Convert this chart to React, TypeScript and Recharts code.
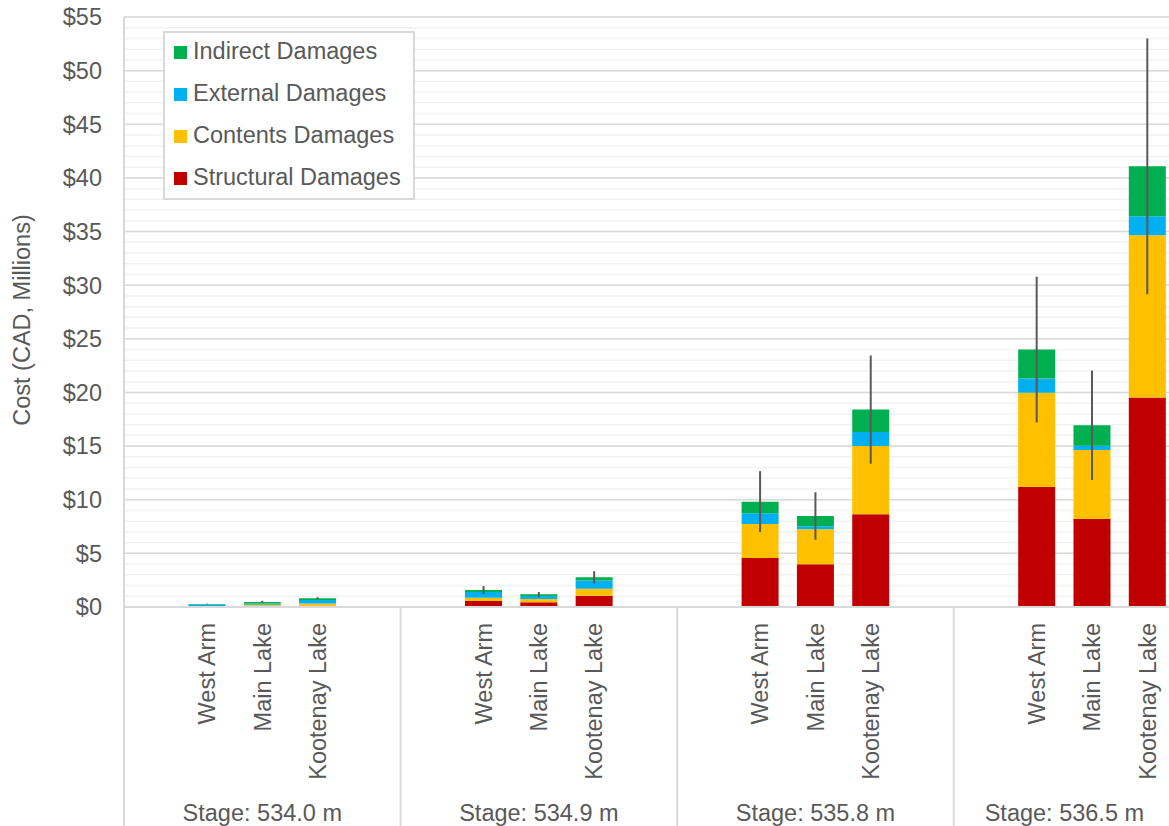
import { BarChart, Bar, XAxis, YAxis, CartesianGrid, ErrorBar, Legend } from "recharts";

// stages along the bottom, sites within each stage
const stages = ['534.0', '534.9', '535.8', '536.5'];
const sites = ['West Arm', 'Main Lake', 'Kootenay Lake'];

// $ millions, ordered stage by stage: West Arm, Main Lake, Kootenay Lake
const structural = [0.02, 0.1, 0.12, 0.56, 0.44, 1.06, 4.57, 3.98, 8.64, 11.19, 8.2, 19.52];
const contents = [0.03, 0.1, 0.2, 0.31, 0.31, 0.65, 3.17, 3.26, 6.37, 8.78, 6.44, 15.13];
const external = [0.19, 0.13, 0.33, 0.53, 0.28, 0.75, 0.99, 0.28, 1.3, 1.32, 0.4, 1.77];
const indirect = [0.05, 0.14, 0.16, 0.18, 0.15, 0.31, 1.09, 0.96, 2.09, 2.71, 1.9, 4.66];
// +/- range on the stack total
const errorRange = [0.02, 0.11, 0.1, 0.37, 0.22, 0.57, 2.84, 2.22, 5.05, 6.79, 5.1, 11.92];

const yTicks = [0, 5, 10, 15, 20, 25, 30, 35, 40, 45, 50, 55];
const minorGrid = Array.from({ length: 56 }, (_, i) => i);

const legendOrder = ['Indirect Damages', 'External Damages', 'Contents Damages', 'Structural Damages'];

const colors = {
    structural: '#C00000',
    contents: '#FFC000',
    external: '#00B0F0',
    indirect: '#00B050',
};

const textColor = '#595959';
const gridColor = '#D9D9D9';
const fontFamily = '"Liberation Sans", Arial, sans-serif';
const fontSize = 23.5;

// an empty slot before each stage's three bars, and after them too except for the last stage
const rows = stages.flatMap((stage, g) => {
    const group: any[] = [
        { key: `${stage}-l`, site: '', stage, slot: 0, slots: g === stages.length - 1 ? 4 : 5 },
        ...sites.map((site, s) => {
            const i = g * 3 + s;
            return {
                key: `${stage}-${site}`,
                site,
                stage,
                slot: s + 1,
                structural: structural[i],
                contents: contents[i],
                external: external[i],
                indirect: indirect[i],
                err: errorRange[i],
            };
        }),
    ];
    if (g < stages.length - 1) group.push({ key: `${stage}-r`, site: '', stage, slot: 4 });
    return group;
});

const CHART_W = 1175;
const CHART_H = 826;
const Y_AXIS_W = 124;
const X_AXIS_H = 219;
const MARGIN = { top: 17, right: 0, bottom: 0, left: 0 };

const SiteTick = (props: any) => {
    const { x, y, payload } = props;
    const row = rows.find((r) => r.key === payload.value);
    if (!row) return null;
    const half = payload.offset ?? (CHART_W - MARGIN.right - Y_AXIS_W) / rows.length / 2;
    const left = x - half;
    return (
        <g>
            {row.slot === 0 && (
                <line x1={left} x2={left} y1={y} y2={y + X_AXIS_H} stroke={gridColor} strokeWidth={2} />
            )}
            {row.site && (
                <text
                    transform={`translate(${x},${y + 16}) rotate(-90)`}
                    textAnchor="end"
                    dy="0.35em"
                    fill={textColor}
                    fontSize={fontSize}
                    fontFamily={fontFamily}
                >
                    {row.site}
                </text>
            )}
            {row.slot === 0 && (
                <text
                    x={left + row.slots * half}
                    y={y + 214}
                    textAnchor="middle"
                    fill={textColor}
                    fontSize={fontSize}
                    fontFamily={fontFamily}
                >
                    {`Stage: ${row.stage} m`}
                </text>
            )}
        </g>
    );
};

const renderYLabel = (props: any) => {
    const vb = props.viewBox ?? { x: 0, y: MARGIN.top, width: Y_AXIS_W, height: CHART_H - MARGIN.top - X_AXIS_H };
    const cx = vb.x + 22;
    const cy = vb.y + vb.height / 2 + 8;
    return (
        <text
            transform={`translate(${cx},${cy}) rotate(-90)`}
            textAnchor="middle"
            dy="0.35em"
            fill={textColor}
            fontSize={fontSize}
            fontFamily={fontFamily}
        >
            Cost (CAD, Millions)
        </text>
    );
};

const LegendBox = (props: any) => {
    const items = [...(props.payload ?? [])].sort(
        (a: any, b: any) => legendOrder.indexOf(a.value) - legendOrder.indexOf(b.value)
    );
    return (
        <div
            style={{
                boxSizing: 'border-box',
                width: 252,
                height: 169,
                border: `2px solid ${gridColor}`,
                background: '#fff',
                fontFamily,
                fontSize,
                color: textColor,
            }}
        >
            {items.map((item: any, i: number) => (
                <div key={item.value} style={{ display: 'flex', alignItems: 'center', height: 42, marginTop: i === 0 ? -2 : 0 }}>
                    <span style={{ width: 13, height: 13, background: item.color, marginLeft: 9, marginRight: 6 }} />
                    <span style={{ lineHeight: 1 }}>{item.value}</span>
                </div>
            ))}
        </div>
    );
};

export default function App() {
    return (
        <div style={{ position: 'absolute', left: 0, top: 0, width: 1169, height: 826, overflow: 'hidden', background: '#fff' }}>
            <BarChart width={CHART_W} height={CHART_H} data={rows} margin={MARGIN} barCategoryGap="16.5%">
                <CartesianGrid vertical={false} horizontalValues={minorGrid} stroke="#F2F2F2" strokeWidth={1.5} />
                <CartesianGrid vertical={false} horizontalValues={yTicks} stroke={gridColor} strokeWidth={1.5} />
                <XAxis
                    dataKey="key"
                    height={X_AXIS_H}
                    interval={0}
                    tickLine={false}
                    tickSize={0}
                    tickMargin={0}
                    axisLine={{ stroke: gridColor, strokeWidth: 2 }}
                    tick={<SiteTick />}
                />
                <YAxis
                    width={Y_AXIS_W}
                    domain={[0, 55]}
                    ticks={yTicks}
                    interval={0}
                    tickLine={false}
                    tickSize={0}
                    tickMargin={22}
                    axisLine={{ stroke: gridColor, strokeWidth: 2 }}
                    tick={{ fill: textColor, fontSize, fontFamily }}
                    tickFormatter={(v) => `$${v}`}
                    label={renderYLabel}
                />
                <Legend
                    layout="vertical"
                    align="center"
                    verticalAlign="middle"
                    content={<LegendBox />}
                    wrapperStyle={{ left: 163, top: 31, width: 252, height: 169 }}
                />
                <Bar dataKey="structural" name="Structural Damages" stackId="a" fill={colors.structural} isAnimationActive={false} />
                <Bar dataKey="contents" name="Contents Damages" stackId="a" fill={colors.contents} isAnimationActive={false} />
                <Bar dataKey="external" name="External Damages" stackId="a" fill={colors.external} isAnimationActive={false} />
                <Bar dataKey="indirect" name="Indirect Damages" stackId="a" fill={colors.indirect} isAnimationActive={false}>
                    <ErrorBar dataKey="err" width={0} stroke="#595959" strokeWidth={2} direction="y" isAnimationActive={false} />
                </Bar>
            </BarChart>
        </div>
    );
}
